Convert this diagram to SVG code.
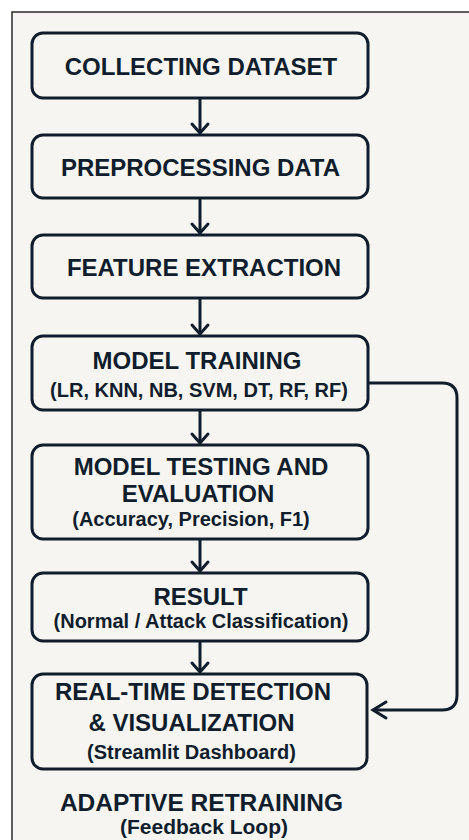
<svg xmlns="http://www.w3.org/2000/svg" width="469" height="840" viewBox="0 0 469 840">
  <defs>
    <style>
      .box { fill: none; stroke: #0f1d2c; stroke-width: 3; }
      .t { font-family: "Liberation Sans", Arial, sans-serif; font-weight: bold; fill: #0f1d2c; text-anchor: middle; }
      .h { font-size: 24px; }
      .s { font-size: 20px; }
      .conn { fill: none; stroke: #0f1d2c; stroke-width: 3; }
      .head { fill: none; stroke: #0f1d2c; stroke-width: 3; stroke-linecap: round; stroke-linejoin: miter; }
    </style>
  </defs>
  <rect x="0" y="0" width="469" height="840" fill="#ffffff"/>
  <rect x="12" y="12" width="470" height="840" fill="#f7f5f1" stroke="#2a2a2a" stroke-width="1.5"/>

  <g id="connectors">
    <line class="conn" x1="200" y1="98" x2="200" y2="133"/>
    <polyline class="head" points="192,124 200,133 208,124"/>
    <line class="conn" x1="200" y1="198" x2="200" y2="233"/>
    <polyline class="head" points="192,224 200,233 208,224"/>
    <line class="conn" x1="200" y1="298" x2="200" y2="334"/>
    <polyline class="head" points="192,325 200,334 208,325"/>
    <line class="conn" x1="200" y1="410" x2="200" y2="443"/>
    <polyline class="head" points="192,434 200,443 208,434"/>
    <line class="conn" x1="200" y1="539" x2="200" y2="571"/>
    <polyline class="head" points="192,562 200,571 208,562"/>
    <line class="conn" x1="200" y1="641" x2="200" y2="672"/>
    <polyline class="head" points="192,663 200,672 208,663"/>
    <path class="conn" d="M 368 383 H 442 Q 457 383 457 398 V 695 Q 457 710 442 710 H 374"/>
    <polyline class="head" points="386,702 373,710 386,718"/>
  </g>

  <g id="collecting">
    <rect class="box" x="32" y="33" width="336" height="65" rx="11"/>
    <text class="t h" x="201" y="75">COLLECTING DATASET</text>
  </g>
  <g id="preprocessing">
    <rect class="box" x="32" y="135" width="336" height="63" rx="11"/>
    <text class="t h" x="200.5" y="176">PREPROCESSING DATA</text>
  </g>
  <g id="feature">
    <rect class="box" x="32" y="235" width="336" height="63" rx="11"/>
    <text class="t h" x="204" y="276">FEATURE EXTRACTION</text>
  </g>
  <g id="training">
    <rect class="box" x="32" y="336" width="336" height="74" rx="11"/>
    <text class="t h" x="197" y="369">MODEL TRAINING</text>
    <text class="t s" x="199" y="397">(LR, KNN, NB, SVM, DT, RF, RF)</text>
  </g>
  <g id="testing">
    <rect class="box" x="32" y="445" width="336" height="94" rx="11"/>
    <text class="t h" x="201" y="475">MODEL TESTING AND</text>
    <text class="t h" x="198" y="502">EVALUATION</text>
    <text class="t s" x="191" y="526">(Accuracy, Precision, F1)</text>
  </g>
  <g id="result">
    <rect class="box" x="32" y="573" width="336" height="68" rx="11"/>
    <text class="t h" x="200.5" y="605">RESULT</text>
    <text class="t s" x="201" y="628">(Normal / Attack Classification)</text>
  </g>
  <g id="realtime">
    <rect class="box" x="32" y="674" width="335" height="95" rx="11"/>
    <text class="t h" x="193" y="700">REAL-TIME DETECTION</text>
    <text class="t h" x="191.5" y="731">&amp; VISUALIZATION</text>
    <text class="t s" x="191.5" y="759">(Streamlit Dashboard)</text>
  </g>
  <g id="adaptive">
    <text class="t h" x="201.5" y="811" style="font-size:24.5px">ADAPTIVE RETRAINING</text>
    <text class="t s" x="204" y="834" style="font-size:21px">(Feedback Loop)</text>
  </g>
</svg>
